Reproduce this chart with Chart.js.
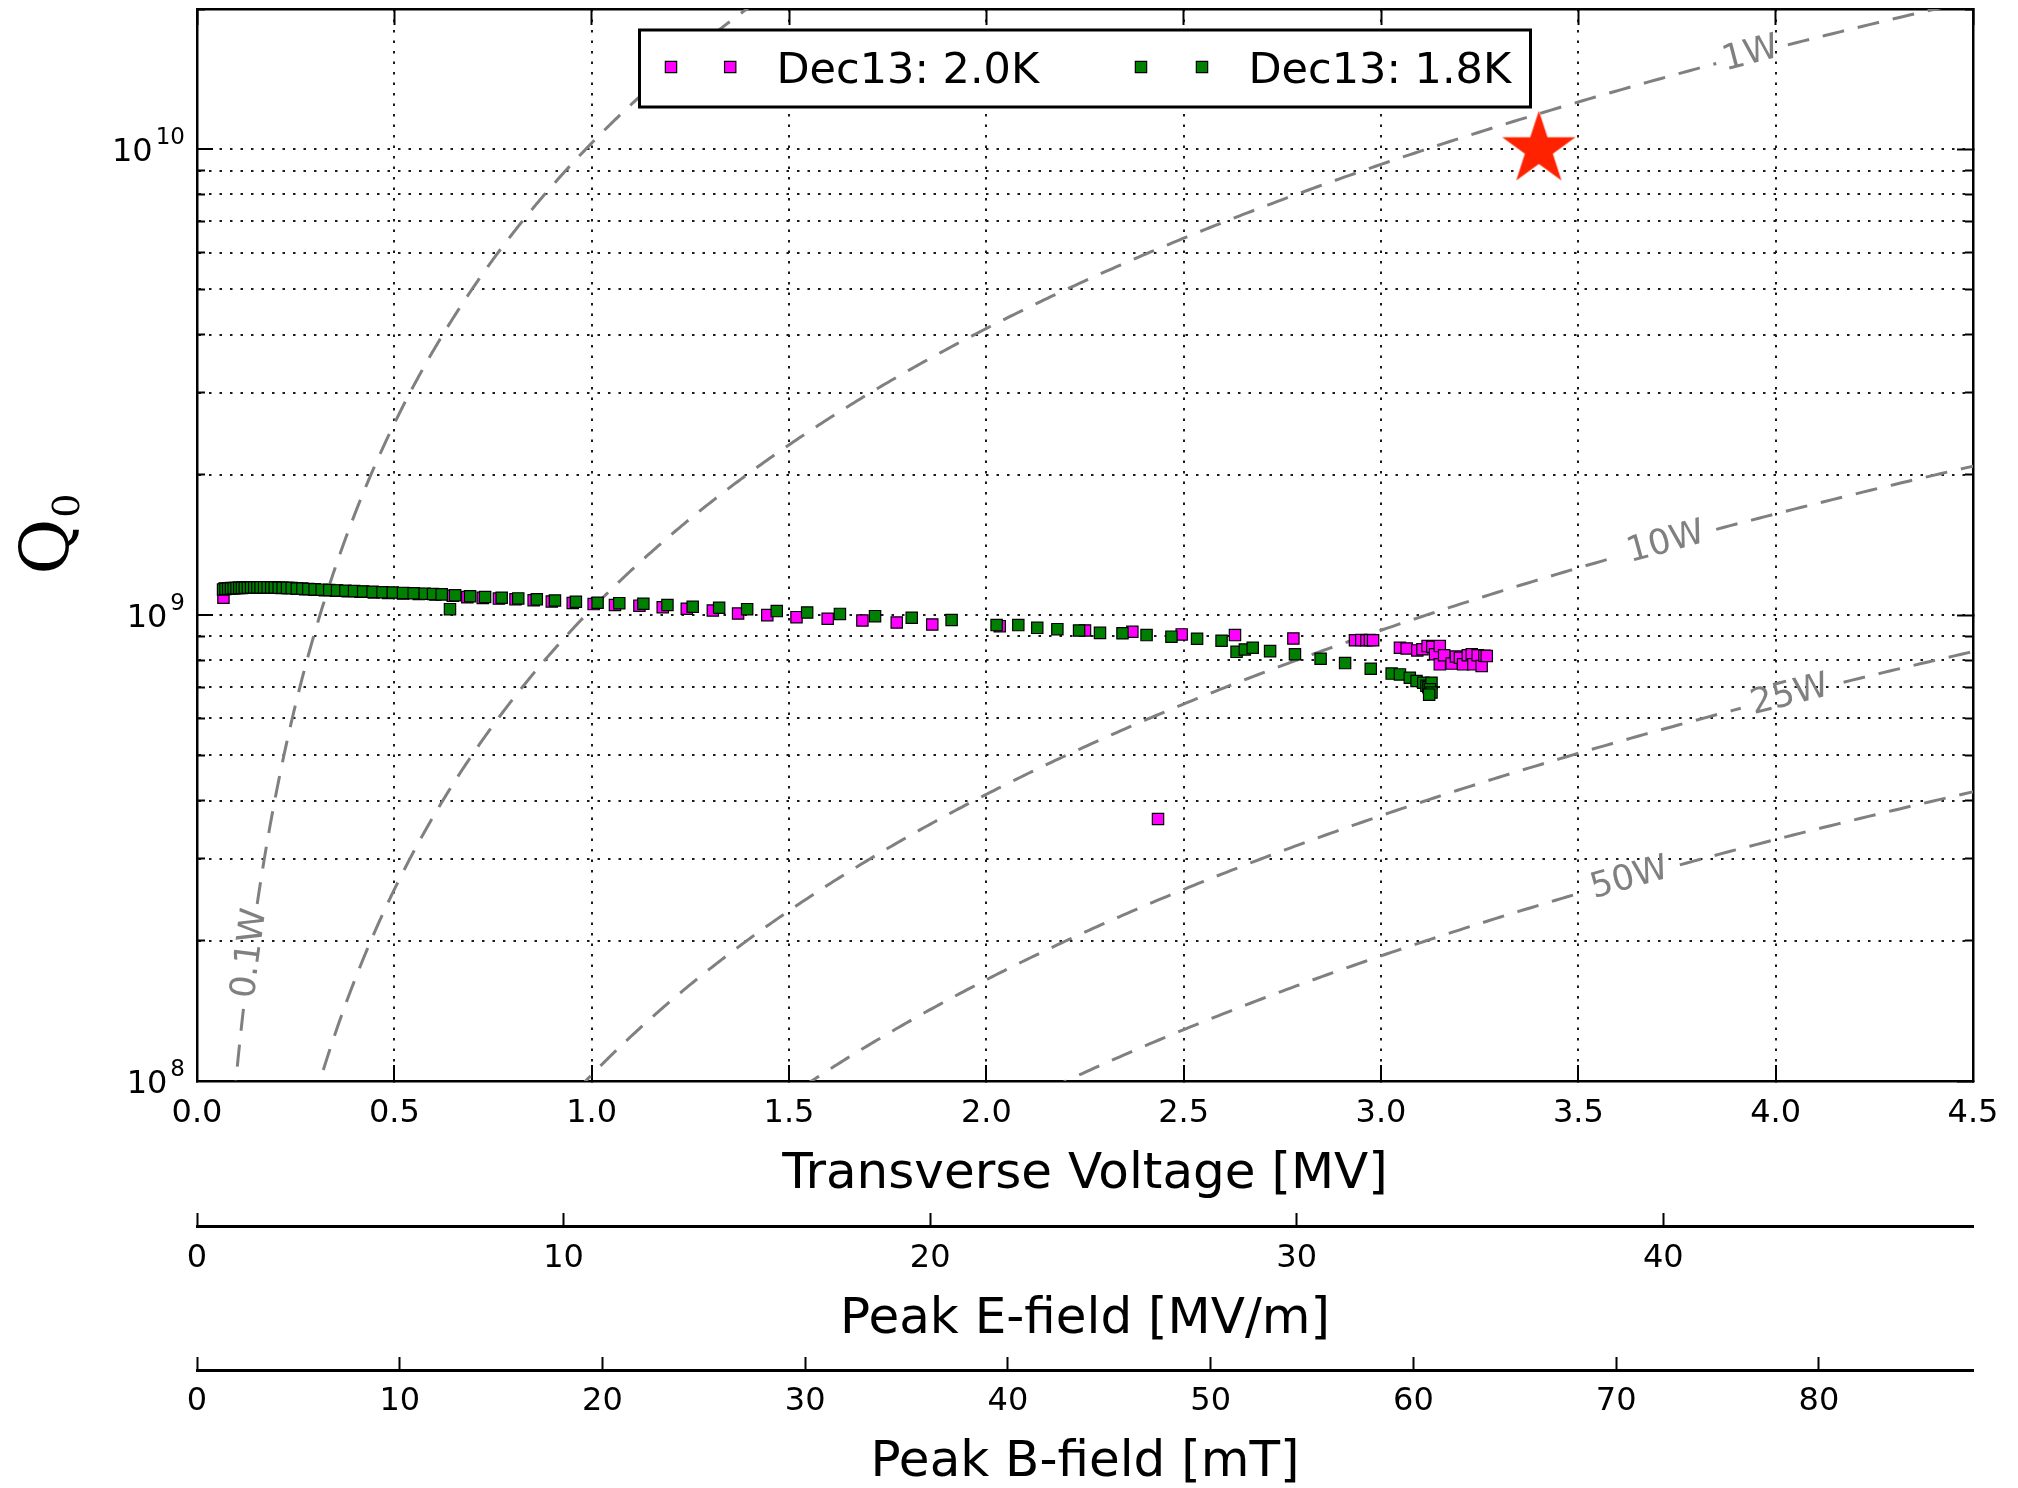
<!DOCTYPE html>
<html>
<head>
<meta charset="utf-8">
<script src="https://cdn.jsdelivr.net/npm/chart.js@4.4.1/dist/chart.umd.min.js"></script>
<style>
  html, body { margin: 0; padding: 0; background: #ffffff; }
  #wrap { width: 2018px; height: 1488px; position: relative; }
  canvas { display: block; }
</style>
</head>
<body>
<div id="wrap"><canvas id="chart" width="2018" height="1488"></canvas></div>
<script>
// ---------------- data ----------------
// Dec13: 2.0K (magenta)
const v20K = [0.067,0.070,0.078,0.087,0.096,0.106,0.116,0.127,0.139,0.152,0.166,0.181,0.197,0.214,0.232,0.252,0.274,0.298,0.324,0.352,0.382,0.414,0.448,0.484,0.522,0.562,0.604,0.648,0.685,0.724,0.765,0.807,0.853,0.899,0.952,1.005,1.059,1.121,1.180,1.241,1.307,1.371,1.445,1.519,1.598,1.686,1.773,1.863,2.034,2.250,2.370,2.435,2.495,2.630,2.778,2.934,2.950,2.963,2.972,2.980,3.048,3.065,3.092,3.105,3.118,3.130,3.137,3.149,3.149,3.160,3.179,3.190,3.200,3.208,3.220,3.230,3.234,3.245,3.255,3.262,3.268];
const q20K = [1.090e9,1.140e9,1.142e9,1.143e9,1.144e9,1.145e9,1.145e9,1.146e9,1.146e9,1.146e9,1.146e9,1.146e9,1.145e9,1.144e9,1.143e9,1.140e9,1.137e9,1.134e9,1.131e9,1.128e9,1.125e9,1.122e9,1.119e9,1.116e9,1.113e9,1.110e9,1.107e9,1.100e9,1.093e9,1.089e9,1.085e9,1.081e9,1.076e9,1.070e9,1.062e9,1.056e9,1.051e9,1.048e9,1.040e9,1.032e9,1.023e9,1.008e9,1.000e9,0.990e9,0.982e9,0.974e9,0.964e9,0.955e9,0.947e9,0.927e9,0.921e9,0.365e9,0.909e9,0.906e9,0.891e9,0.883e9,0.884e9,0.883e9,0.884e9,0.883e9,0.851e9,0.848e9,0.840e9,0.845e9,0.858e9,0.855e9,0.824e9,0.858e9,0.784e9,0.820e9,0.787e9,0.815e9,0.810e9,0.784e9,0.820e9,0.824e9,0.784e9,0.820e9,0.778e9,0.818e9,0.817e9];

// Dec13: 1.8K (green)
const v18K = [0.066,0.072,0.079,0.086,0.093,0.100,0.107,0.114,0.121,0.129,0.137,0.145,0.153,0.161,0.170,0.179,0.188,0.197,0.207,0.217,0.228,0.240,0.253,0.267,0.282,0.298,0.316,0.335,0.355,0.376,0.398,0.421,0.445,0.470,0.496,0.522,0.549,0.577,0.598,0.620,0.641,0.654,0.692,0.730,0.772,0.814,0.861,0.907,0.960,1.015,1.070,1.131,1.192,1.256,1.323,1.394,1.469,1.546,1.629,1.718,1.811,1.912,2.026,2.081,2.129,2.180,2.235,2.288,2.345,2.406,2.469,2.534,2.596,2.634,2.655,2.675,2.719,2.782,2.847,2.909,2.974,3.027,3.048,3.073,3.090,3.107,3.115,3.120,3.128,3.124,3.128,3.122];
const q18K = [1.135e9,1.138e9,1.140e9,1.141e9,1.142e9,1.143e9,1.144e9,1.144e9,1.145e9,1.145e9,1.146e9,1.146e9,1.146e9,1.147e9,1.147e9,1.147e9,1.146e9,1.146e9,1.145e9,1.145e9,1.144e9,1.143e9,1.141e9,1.140e9,1.138e9,1.136e9,1.134e9,1.132e9,1.130e9,1.128e9,1.126e9,1.124e9,1.122e9,1.120e9,1.118e9,1.116e9,1.114e9,1.112e9,1.110e9,1.108e9,1.030e9,1.103e9,1.098e9,1.094e9,1.090e9,1.086e9,1.081e9,1.075e9,1.068e9,1.063e9,1.061e9,1.058e9,1.051e9,1.042e9,1.037e9,1.030e9,1.020e9,1.013e9,1.006e9,0.995e9,0.987e9,0.976e9,0.952e9,0.952e9,0.939e9,0.933e9,0.927e9,0.916e9,0.914e9,0.906e9,0.899e9,0.890e9,0.881e9,0.834e9,0.844e9,0.851e9,0.837e9,0.824e9,0.806e9,0.789e9,0.767e9,0.749e9,0.746e9,0.734e9,0.722e9,0.716e9,0.705e9,0.700e9,0.716e9,0.693e9,0.682e9,0.675e9];

// target (red star)
const targetV = [3.4];
const targetQ = [1.0e10];

// iso-power contours: Q0 = V^2 / (R/Q * P)
const contourPowers = [0.1, 1, 10, 25, 50];          // W
const contourLabels = ['0.1W', '1W', '10W', '25W', '50W'];
const contourLabelV = [0.135, 3.937, 3.722, 4.036, 3.630]; // MV, where the label sits
const contourGapHalf = [0.017, 0.085, 0.12, 0.12, 0.12];    // MV, inline gap around label
const rOverQ = 970;                                    // ohm, from where the curves cross 1e8

// axes / tick labels
const xTicks = [0, 0.5, 1.0, 1.5, 2.0, 2.5, 3.0, 3.5, 4.0, 4.5];
const yTicks = [1e8,2e8,3e8,4e8,5e8,6e8,7e8,8e8,9e8,1e9,2e9,3e9,4e9,5e9,6e9,7e9,8e9,9e9,1e10,2e10];
const yLabelTicks = [1e8, 1e9, 1e10];
const eTicks = [0, 10, 20, 30, 40];
const bTicks = [0, 10, 20, 30, 40, 50, 60, 70, 80];
const xMax = 4.5, yMin = 1e8, yMax = 2e10;
const eMax = 48.45;   // MV/m at 4.5 MV
const bMax = 87.6;    // mT at 4.5 MV
const yTitleMain = 'Q', yTitleSub = '0';

// ---------------- helpers ----------------
const FONT = '"DejaVu Sans", sans-serif';
const SERIF = '"DejaVu Serif", serif';
const isPow10 = v => Math.abs(Math.log10(v) - Math.round(Math.log10(v))) < 1e-9;

function contourPoints(P, labelV, gapHalf) {
  const pts = [];
  let gapDone = false;
  for (let e = 7.8; e <= 10.6; e += 0.004) {
    const Q = Math.pow(10, e);
    const V = Math.sqrt(Q * rOverQ * P / 1e12);
    if (Math.abs(V - labelV) < gapHalf) {
      if (!gapDone) { pts.push({x: V, y: null}); gapDone = true; }
      continue;
    }
    pts.push({x: V, y: Q});
  }
  return pts;
}

function makeStar(R, color) {
  const s = Math.ceil(2 * R + 4);
  const c = document.createElement('canvas');
  c.width = s; c.height = s;
  const g = c.getContext('2d');
  g.translate(s / 2, s / 2);
  g.beginPath();
  for (let k = 0; k < 10; k++) {
    const r = (k % 2 === 0) ? R : R * 0.381966;
    const a = -Math.PI / 2 + k * Math.PI / 5;
    g.lineTo(r * Math.cos(a), r * Math.sin(a));
  }
  g.closePath();
  g.fillStyle = color;
  g.fill();
  return c;
}

const MAGENTA = '#ff00ff', GREEN = '#008000', GREY = '#808080';
const MARK_R = 8.0;

const datasets = [];
contourPowers.forEach((P, i) => {
  datasets.push({
    label: contourLabels[i],
    data: contourPoints(P, contourLabelV[i], contourGapHalf[i]),
    showLine: true, spanGaps: false, pointRadius: 0, borderColor: GREY, borderWidth: 3,
    borderDash: [22, 14], tension: 0, fill: false, order: 10
  });
});
datasets.push({
  label: 'Dec13: 2.0K',
  data: v20K.map((v, i) => ({x: v, y: q20K[i]})),
  pointStyle: 'rect', pointRadius: MARK_R, backgroundColor: MAGENTA, borderColor: '#000', borderWidth: 1.2,
  showLine: false, order: 3
});
datasets.push({
  label: 'Dec13: 1.8K',
  data: v18K.map((v, i) => ({x: v, y: q18K[i]})),
  pointStyle: 'rect', pointRadius: MARK_R, backgroundColor: GREEN, borderColor: '#000', borderWidth: 1.2,
  showLine: false, order: 2
});
datasets.push({
  label: 'target',
  data: targetV.map((v, i) => ({x: v, y: targetQ[i]})),
  pointStyle: makeStar(38.5, '#ff2200'), pointRadius: 10, showLine: false, order: 1
});

// ---------------- plugins ----------------
const contourLabelPlugin = {
  id: 'contourLabels',
  afterDatasetsDraw(chart) {
    const ctx = chart.ctx, xs = chart.scales.x, ys = chart.scales.y;
    ctx.save();
    ctx.font = '35px ' + FONT;
    ctx.fillStyle = GREY;
    ctx.textAlign = 'center';
    ctx.textBaseline = 'middle';
    contourPowers.forEach((P, i) => {
      const qOf = V => V * V * 1e12 / (rOverQ * P);
      const V = contourLabelV[i];
      const px = xs.getPixelForValue(V), py = ys.getPixelForValue(qOf(V));
      const d = 0.005;
      const ax = xs.getPixelForValue(V - d), ay = ys.getPixelForValue(qOf(V - d));
      const bx = xs.getPixelForValue(V + d), by = ys.getPixelForValue(qOf(V + d));
      const ang = Math.atan2(by - ay, bx - ax);
      ctx.save();
      ctx.translate(px, py);
      ctx.rotate(ang);
      ctx.fillText(contourLabels[i], 0, 0);
      ctx.restore();
    });
    ctx.restore();
  }
};

const overlayPlugin = {
  id: 'overlay',
  afterDraw(chart) {
    const ctx = chart.ctx, ca = chart.chartArea, ys = chart.scales.y;
    // y tick labels 10^n
    ctx.save();
    ctx.fillStyle = '#000';
    ctx.textAlign = 'left';
    ctx.textBaseline = 'alphabetic';
    yLabelTicks.forEach(v => {
      const py = ys.getPixelForValue(v);
      const exp = String(Math.round(Math.log10(v)));
      ctx.font = '23px ' + FONT;
      const we = ctx.measureText(exp).width;
      ctx.font = '32px ' + FONT;
      const wb = ctx.measureText('10').width;
      const right = ys.right - 12;
      ctx.fillText('10', right - we - wb - 3, py + 12);
      ctx.font = '23px ' + FONT;
      ctx.fillText(exp, right - we, py - 5);
    });

    // y axis title Q_0 (rotated, reading upward)
    const midY = (ca.top + ca.bottom) / 2;
    ctx.font = '68px ' + SERIF;
    const wQ = ctx.measureText(yTitleMain).width;
    ctx.font = '38px ' + SERIF;
    const w0 = ctx.measureText(yTitleSub).width;
    const total = wQ + 1 + w0;
    ctx.save();
    ctx.translate(ys.left + 68, midY - 11 + total / 2);
    ctx.rotate(-Math.PI / 2);
    ctx.font = '68px ' + SERIF;
    ctx.fillText(yTitleMain, 0, 0);
    ctx.font = '38px ' + SERIF;
    ctx.fillText(yTitleSub, wQ + 1, 11);
    ctx.restore();
    ctx.restore();

    // legend (upper center, two markers per entry)
    const w = 891, h = 77;
    const x0 = (ca.left + ca.right) / 2 - w / 2, y0 = ca.top + 21;
    ctx.save();
    ctx.fillStyle = '#fff';
    ctx.fillRect(x0, y0, w, h);
    ctx.lineWidth = 3;
    ctx.strokeStyle = '#000';
    ctx.strokeRect(x0, y0, w, h);
    const entries = [
      {ds: datasets[5], m1: 31.5, m2: 90.7, tx: 137},
      {ds: datasets[6], m1: 501.5, m2: 562.5, tx: 609}
    ];
    entries.forEach(e => {
      ctx.fillStyle = e.ds.backgroundColor;
      ctx.strokeStyle = e.ds.borderColor;
      ctx.lineWidth = e.ds.borderWidth;
      Chart.helpers.drawPoint(ctx, {pointStyle: 'rect', radius: MARK_R, borderWidth: e.ds.borderWidth, rotation: 0}, x0 + e.m1, y0 + 37);
      Chart.helpers.drawPoint(ctx, {pointStyle: 'rect', radius: MARK_R, borderWidth: e.ds.borderWidth, rotation: 0}, x0 + e.m2, y0 + 37);
      ctx.fillStyle = '#000';
      ctx.font = '43px ' + FONT;
      ctx.textAlign = 'left';
      ctx.textBaseline = 'alphabetic';
      ctx.fillText(e.ds.label, x0 + e.tx, y0 + 52.6);
    });
    ctx.restore();
  }
};

// ---------------- scales ----------------
const tickFont = {family: FONT, size: 32};
const titleFont = {family: FONT, size: 50};
const zeroPad = s => { s.paddingLeft = 0; s.paddingRight = 0; s.paddingTop = 0; s.paddingBottom = 0; };

const scales = {
  x: {
    type: 'linear', position: 'bottom', weight: 0, min: 0, max: xMax,
    afterBuildTicks: s => { s.ticks = xTicks.map(v => ({value: v})); },
    ticks: {font: tickFont, color: '#000', padding: 29, maxRotation: 0, autoSkip: false,
            callback: v => Number(v).toFixed(1)},
    grid: {color: '#1a1a1a', lineWidth: 2, drawTicks: true, tickLength: -16, tickColor: '#000', tickWidth: 2, tickBorderDash: []},
    border: {display: true, color: '#000', width: 2.5, dash: [2.5, 8]},
    title: {display: true, text: 'Transverse Voltage [MV]', font: titleFont, color: '#000', padding: {top: 0, bottom: 20.5}},
    afterFit: s => { s.height = 145; zeroPad(s); }
  },
  x2: {
    type: 'linear', position: 'bottom', weight: 1, min: 0, max: eMax,
    afterBuildTicks: s => { s.ticks = eTicks.map(v => ({value: v})); },
    ticks: {font: tickFont, color: '#000', padding: 26, maxRotation: 0, autoSkip: false, callback: v => String(v)},
    grid: {drawOnChartArea: false, drawTicks: true, tickLength: -13, tickColor: '#000', tickWidth: 2, tickBorderDash: []},
    border: {display: true, color: '#000', width: 3},
    title: {display: true, text: 'Peak E-field [MV/m]', font: titleFont, color: '#000', padding: {top: 0, bottom: 19.5}},
    afterFit: s => { s.height = 144; zeroPad(s); }
  },
  x3: {
    type: 'linear', position: 'bottom', weight: 2, min: 0, max: bMax,
    afterBuildTicks: s => { s.ticks = bTicks.map(v => ({value: v})); },
    ticks: {font: tickFont, color: '#000', padding: 25.5, maxRotation: 0, autoSkip: false, callback: v => String(v)},
    grid: {drawOnChartArea: false, drawTicks: true, tickLength: -13, tickColor: '#000', tickWidth: 2, tickBorderDash: []},
    border: {display: true, color: '#000', width: 3},
    title: {display: true, text: 'Peak B-field [mT]', font: titleFont, color: '#000', padding: {top: 0, bottom: -5}},
    afterFit: s => { s.height = 118; zeroPad(s); }
  },
  xTop: {
    type: 'linear', position: 'top', min: 0, max: xMax,
    afterBuildTicks: s => { s.ticks = xTicks.map(v => ({value: v})); },
    ticks: {display: false},
    grid: {drawOnChartArea: false, drawTicks: true, tickLength: -16, tickColor: '#000', tickWidth: 2, tickBorderDash: []},
    border: {display: true, color: '#000', width: 2.5},
    afterFit: s => { s.height = 0; zeroPad(s); }
  },
  y: {
    type: 'logarithmic', position: 'left', weight: 0, min: yMin, max: yMax,
    afterBuildTicks: s => { s.ticks = yTicks.map(v => ({value: v})); },
    ticks: {display: false},
    grid: {color: '#1a1a1a', lineWidth: 2, drawTicks: true, tickLength: -16, tickWidth: 2, tickBorderDash: [],
           tickColor: c => (c.tick && isPow10(c.tick.value)) ? '#000' : 'rgba(0,0,0,0)'},
    border: {display: true, color: '#000', width: 2.5, dash: [2.5, 8]},
    title: {display: false},
    afterFit: s => { s.width = 197; zeroPad(s); }
  },
  yMinorL: {
    type: 'logarithmic', position: 'left', weight: -1, min: yMin, max: yMax,
    afterBuildTicks: s => { s.ticks = yTicks.map(v => ({value: v})); },
    ticks: {display: false},
    grid: {drawOnChartArea: false, drawTicks: true, tickLength: -8, tickWidth: 2, tickBorderDash: [],
           tickColor: c => (c.tick && !isPow10(c.tick.value)) ? '#000' : 'rgba(0,0,0,0)'},
    border: {display: false},
    afterFit: s => { s.width = 0; zeroPad(s); }
  },
  yR: {
    type: 'logarithmic', position: 'right', weight: 0, min: yMin, max: yMax,
    afterBuildTicks: s => { s.ticks = yTicks.map(v => ({value: v})); },
    ticks: {display: false},
    grid: {drawOnChartArea: false, drawTicks: true, tickLength: -16, tickWidth: 2, tickBorderDash: [],
           tickColor: c => (c.tick && isPow10(c.tick.value)) ? '#000' : 'rgba(0,0,0,0)'},
    border: {display: true, color: '#000', width: 2.5},
    afterFit: s => { s.width = 0; zeroPad(s); }
  },
  yMinorR: {
    type: 'logarithmic', position: 'right', weight: 1, min: yMin, max: yMax,
    afterBuildTicks: s => { s.ticks = yTicks.map(v => ({value: v})); },
    ticks: {display: false},
    grid: {drawOnChartArea: false, drawTicks: true, tickLength: -8, tickWidth: 2, tickBorderDash: [],
           tickColor: c => (c.tick && !isPow10(c.tick.value)) ? '#000' : 'rgba(0,0,0,0)'},
    border: {display: false},
    afterFit: s => { s.width = 0; zeroPad(s); }
  }
};

Chart.defaults.font.family = FONT;

new Chart(document.getElementById('chart'), {
  type: 'scatter',
  data: {datasets},
  options: {
    responsive: false,
    animation: false,
    events: [],
    devicePixelRatio: 1,
    layout: {autoPadding: false, padding: {left: 0, right: 45, top: 9, bottom: 0}},
    plugins: {legend: {display: false}, tooltip: {enabled: false}},
    scales
  },
  plugins: [contourLabelPlugin, overlayPlugin]
});
</script>
</body>
</html>
